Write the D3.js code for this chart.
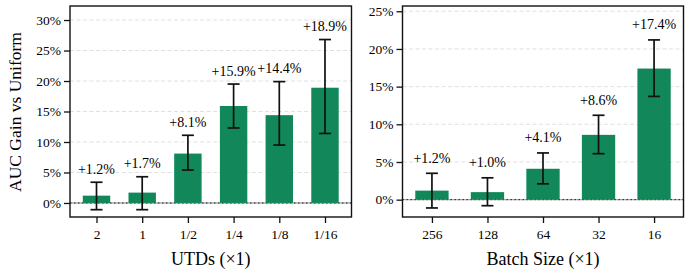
<!DOCTYPE html>
<html>
<head>
<meta charset="utf-8">
<script src="https://cdn.jsdelivr.net/npm/d3@7"></script>
<style>
  body { margin: 0; background: #fff; }
  text { font-family: "Liberation Serif", "DejaVu Serif", serif; fill: #000; }
</style>
</head>
<body>
<div id="chart"></div>
<script>
// data
var utdLabels = ["2", "1", "1/2", "1/4", "1/8", "1/16"];
var utdGain = [1.2, 1.7, 8.1, 15.9, 14.4, 18.9];
var utdErrLow = [-1.1, -1.1, 5.4, 12.3, 9.5, 11.4];
var utdErrHigh = [3.4, 4.3, 11.1, 19.5, 19.9, 26.8];

var batchLabels = ["256", "128", "64", "32", "16"];
var batchGain = [1.2, 1.0, 4.1, 8.6, 17.4];
var batchErrLow = [-1.1, -0.8, 2.1, 6.1, 13.7];
var batchErrHigh = [3.5, 2.9, 6.2, 11.2, 21.2];

var utdTicks = [0, 5, 10, 15, 20, 25, 30];
var batchTicks = [0, 5, 10, 15, 20, 25];

var barColor = "#12875a";

var svg = d3.select("#chart")
    .append("svg")
    .attr("width", 691)
    .attr("height", 273);

// draw one panel
function panel(opts) {
    var g = svg.append("g");
    var left = opts.left, right = opts.right, top = 6, bottom = 217;
    var n = opts.labels.length;

    var x = d3.scaleLinear()
        .domain([-0.3 - 0.05 * (n - 0.4), n - 0.7 + 0.05 * (n - 0.4)])
        .range([left, right]);
    var y = d3.scaleLinear()
        .domain(opts.yDomain)
        .range([bottom, top]);

    // grid
    g.selectAll("line.grid")
        .data(opts.ticks.filter(t => t !== 0))
        .enter().append("line")
        .attr("x1", left).attr("x2", right)
        .attr("y1", d => y(d)).attr("y2", d => y(d))
        .attr("stroke", "#dcdcdc")
        .attr("stroke-width", 0.9)
        .attr("stroke-dasharray", "4,2.5");

    // zero line
    g.append("line")
        .attr("x1", left).attr("x2", right)
        .attr("y1", y(0)).attr("y2", y(0))
        .attr("stroke", "#aaa").attr("stroke-width", 1.4);
    g.append("line")
        .attr("x1", left).attr("x2", right)
        .attr("y1", y(0)).attr("y2", y(0))
        .attr("stroke", "#222").attr("stroke-width", 1)
        .attr("stroke-dasharray", "1.5,2.5");

    var idx = d3.range(n);
    var bw = x(0.3) - x(-0.3);

    // bars
    g.selectAll("rect.bar")
        .data(idx)
        .enter().append("rect")
        .attr("x", i => x(i) - bw / 2)
        .attr("width", bw)
        .attr("y", i => y(Math.max(0, opts.values[i])))
        .attr("height", i => Math.abs(y(opts.values[i]) - y(0)))
        .attr("fill", barColor);

    // error bars
    var cap = 6;
    idx.forEach(i => {
        var cx = x(i);
        g.append("line")
            .attr("x1", cx).attr("x2", cx)
            .attr("y1", y(opts.lo[i])).attr("y2", y(opts.hi[i]))
            .attr("stroke", "#111").attr("stroke-width", 1.7);
        [opts.lo[i], opts.hi[i]].forEach(v => {
            g.append("line")
                .attr("x1", cx - cap).attr("x2", cx + cap)
                .attr("y1", y(v)).attr("y2", y(v))
                .attr("stroke", "#111").attr("stroke-width", 1.7);
        });
        g.append("text")
            .attr("x", cx)
            .attr("y", y(opts.hi[i] + 1.4))
            .attr("text-anchor", "middle")
            .style("font-size", "14px")
            .text("+" + opts.values[i].toFixed(1) + "%");
    });

    // Y axis
    var yAxis = g.append("g")
        .attr("transform", "translate(" + left + ",0)")
        .call(d3.axisLeft(y).tickValues(opts.ticks).tickSize(6).tickPadding(3)
            .tickFormat(d => d + "%"));
    // X axis
    var xAxis = g.append("g")
        .attr("transform", "translate(0," + bottom + ")")
        .call(d3.axisBottom(x).tickValues(idx).tickSize(6).tickPadding(6)
            .tickFormat(i => opts.labels[i]));
    [yAxis, xAxis].forEach(a => {
        a.select(".domain").remove();
        a.selectAll("line").attr("stroke", "#111").attr("stroke-width", 1.3);
        a.selectAll("text").style("font-size", "13.5px").attr("fill", "#000");
    });

    // frame
    g.append("rect")
        .attr("x", left).attr("y", top)
        .attr("width", right - left).attr("height", bottom - top)
        .attr("fill", "none")
        .attr("stroke", "#111")
        .attr("stroke-width", 1.4);

    // X label
    g.append("text")
        .attr("x", (left + right) / 2)
        .attr("y", 265)
        .attr("text-anchor", "middle")
        .style("font-size", "18px")
        .text(opts.xLabel);
}

panel({
    left: 70, right: 351.5,
    labels: utdLabels, values: utdGain, lo: utdErrLow, hi: utdErrHigh,
    yDomain: [-2.3, 32.3], ticks: utdTicks,
    xLabel: "UTDs (×1)"
});

panel({
    left: 402.5, right: 683.5,
    labels: batchLabels, values: batchGain, lo: batchErrLow, hi: batchErrHigh,
    yDomain: [-2.3, 25.7], ticks: batchTicks,
    xLabel: "Batch Size (×1)"
});

// Y label
svg.append("text")
    .attr("transform", "translate(21,112) rotate(-90)")
    .attr("text-anchor", "middle")
    .style("font-size", "17.5px")
    .text("AUC Gain vs Uniform");
</script>
</body>
</html>
